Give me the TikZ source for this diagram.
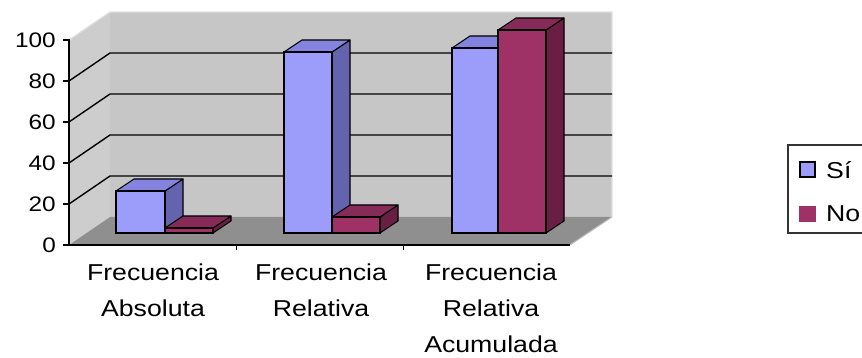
\documentclass[tikz,border=0pt]{standalone}
\usepackage{fontspec}
\setmainfont{Liberation Sans}[FakeStretch=1.16]
\definecolor{siFront}{HTML}{9C9CFA}
\definecolor{siTop}{HTML}{8484E0}
\definecolor{siSide}{HTML}{6363AE}
\definecolor{noFront}{HTML}{9E3266}
\definecolor{noTop}{HTML}{862A57}
\definecolor{noSide}{HTML}{6A1E44}
\definecolor{backWall}{HTML}{C6C6C6}
\definecolor{sideWall}{HTML}{CDCDCD}
\definecolor{floorGray}{HTML}{8F8F8F}
\newcommand\chartbar[6]{%
  \filldraw[fill=#6,draw=black,line width=1.1pt,line join=round] ({#1+#2},233) -- ++(0,-#3) -- ++(18,-12) -- ++(0,#3) -- cycle;
  \filldraw[fill=#5,draw=black,line width=1.1pt,line join=round] (#1,{233-#3}) -- ++(#2,0) -- ++(18,-12) -- ++(-#2,0) -- cycle;
  \filldraw[fill=#4,draw=black,line width=1.1pt] (#1,233) rectangle ++(#2,-#3);
}
\begin{document}
\begin{tikzpicture}[x=1pt,y=-1pt,
  ticklabel/.style={font=\fontsize{21}{21}\selectfont,anchor=base east,inner sep=0pt},
  catlabel/.style={font=\fontsize{23}{36}\selectfont,align=center,anchor=north,inner sep=0pt},
  leglabel/.style={font=\fontsize{23}{23}\selectfont,anchor=base west,inner sep=0pt},
  grid/.style={black,line width=1.4pt},
  axisline/.style={black,line width=1.8pt}]
\useasboundingbox (0,0) rectangle (862,358);
\fill[white] (0,0) rectangle (862,358);
% walls and floor
\fill[backWall] (110,12) rectangle (612,217);
\fill[sideWall] (69,245) -- (69,40) -- (110,12) -- (110,217) -- cycle;
\fill[floorGray] (69,245) -- (570,245) -- (612,217) -- (110,217) -- cycle;
\draw[white!88!black,line width=1.2pt] (69,40) -- (110,12) -- (612,12) -- (612,217);
\draw[white!75!black,line width=1pt] (570,245) -- (612,217);
% gridlines
\foreach \v in {20,40,60,80}{
  \pgfmathsetmacro\yy{245-2.05*\v}
  \draw[grid] (69,\yy) -- (110,\yy-28) -- (612,\yy-28);
}
% bars
\chartbar{116}{49}{42}{siFront}{siTop}{siSide}
\chartbar{165}{48}{5}{noFront}{noTop}{noSide}
\chartbar{284}{48}{181}{siFront}{siTop}{siSide}
\chartbar{332}{48}{16}{noFront}{noTop}{noSide}
\chartbar{452}{46}{185}{siFront}{siTop}{siSide}
\chartbar{498}{48}{203}{noFront}{noTop}{noSide}
% axes
\draw[axisline] (69,39) -- (69,246);
\draw[axisline] (68,245) -- (570,245);
\foreach \v in {0,20,40,60,80,100}{
  \pgfmathsetmacro\yy{245-2.05*\v}
  \draw[axisline,line width=1.4pt] (63,\yy) -- (69,\yy);
}
\foreach \xx in {236,403}{\draw[black,line width=1pt] (\xx,245) -- (\xx,250);}
% tick labels
\node[ticklabel] (t0) at (56,252.5) {0};
\node[ticklabel] (t20) at (56,211.5) {20};
\node[ticklabel] (t40) at (56,170.5) {40};
\node[ticklabel] (t60) at (56,129.5) {60};
\node[ticklabel] (t80) at (56,88.5) {80};
\node[ticklabel] (t100) at (56,47.5) {100};
% category labels
\node[catlabel] (c1) at (153,264) {Frecuencia\\Absoluta};
\node[catlabel] (c2) at (321,264) {Frecuencia\\Relativa};
\node[catlabel] (c3) at (491,264) {Frecuencia\\Relativa\\Acumulada};
% legend
\draw[black!80,line width=1.2pt] (870,145) -- (788,145) -- (788,233) -- (870,233);
\filldraw[fill=siFront,draw=black,line width=1.3pt] (800,162) rectangle (815,177);
\fill[noFront] (799,206) rectangle (816,222);
\node[leglabel] (lsi) at (826,179) {Sí};
\node[leglabel] (lno) at (826,222) {No};
\end{tikzpicture}
\end{document}
